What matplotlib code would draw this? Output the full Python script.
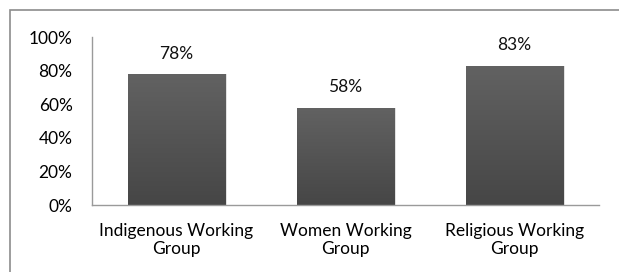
import matplotlib.pyplot as plt
from matplotlib.patches import Rectangle
import numpy as np

plt.rcParams['font.family'] = ['Lato', 'DejaVu Sans']

categories = ['Indigenous Working\nGroup', 'Women Working\nGroup', 'Religious Working\nGroup']
values = [78, 58, 83]
yticks = [0, 20, 40, 60, 80, 100]

fig = plt.figure(figsize=(6.19, 2.72), dpi=100)
# outer frame (only left and top edges fall inside the image)
fig.patches.append(Rectangle((9.5 / 619, -10 / 272), 620 / 619, 272 / 272, transform=fig.transFigure,
                             fill=False, edgecolor='#8c8c8c', linewidth=1.2))

ax = fig.add_axes([92 / 619, 67 / 272, 507 / 619, 168 / 272])
x = np.arange(len(categories))
bars = ax.bar(x, values, width=0.574, color='none', zorder=2)

cmap = plt.matplotlib.colors.LinearSegmentedColormap.from_list('g', ['#464646', '#626262'])
grad = np.linspace(0, 1, 256).reshape(-1, 1)
for b in bars:
    x0, w, h = b.get_x(), b.get_width(), b.get_height()
    # soft shadow
    ax.add_patch(Rectangle((x0 + 0.012, 0), w, h - 0.3, color='#c4c4c4', alpha=0.5, zorder=1, lw=0))
    im = ax.imshow(grad, extent=[x0, x0 + w, 0, h], origin='lower', aspect='auto', cmap=cmap, zorder=2)
    im.set_clip_path(b)
    ax.text(x0 + w / 2, h + 12, f'{int(h)}%', ha='center', va='center', fontsize=12.5, color='#111111')

ax.set_xlim(-0.5, len(categories) - 0.5)
ax.set_ylim(0, 100)
ax.set_yticks(yticks)
ax.set_yticklabels([f'{t}%' for t in yticks], fontsize=12.5)
ax.set_xticks(x)
ax.set_xticklabels(categories, fontsize=12.5, linespacing=1.15)
ax.tick_params(length=0)
ax.tick_params(axis='x', pad=13)
ax.tick_params(axis='y', pad=14)
for s in ['top', 'right']:
    ax.spines[s].set_visible(False)
for s in ['left', 'bottom']:
    ax.spines[s].set_color('#9a9a9a')
    ax.spines[s].set_linewidth(1.0)

fig.savefig('out.png', dpi=100)
